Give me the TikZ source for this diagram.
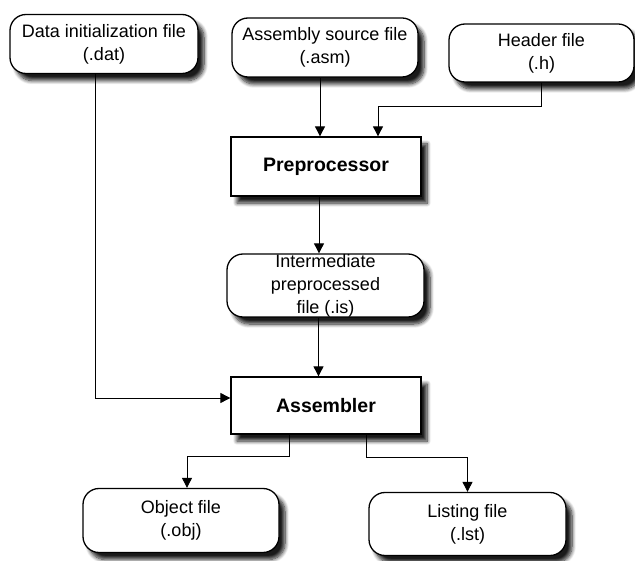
\documentclass[tikz,border=0pt]{standalone}
\usepackage{fontspec}
\setmainfont{Liberation Sans}
\usetikzlibrary{shadows.blur,arrows.meta}
\tikzset{
  box/.style={draw=black, line width=1.3pt, fill=white, align=center, inner sep=0pt,
    blur shadow={shadow xshift=6pt, shadow yshift=-7pt, shadow blur radius=4pt, shadow blur steps=8, shadow opacity=90},
    font=\fontsize{18}{23}\selectfont},
  filebox/.style={box, rounded corners=16pt},
  procbox/.style={box, font=\fontsize{19.5}{23}\selectfont\bfseries},
  arr/.style={draw=black, line width=0.9pt, -{Triangle[length=10pt,width=10pt]}}
}
\begin{document}
\begin{tikzpicture}[x=1pt,y=-1pt]
\useasboundingbox (0,0) rectangle (635,561);
\node[filebox, minimum width=188, minimum height=59] (dat) at (104,44) {Data initialization file\\(.dat)};
\node[filebox, minimum width=186, minimum height=59] (asm) at (325,47.5) {Assembly source file\\(.asm)};
\node[filebox, minimum width=185, minimum height=58] (hdr) at (541.5,53) {Header file\\(.h)};
\node[procbox, minimum width=190, minimum height=59] (pre) at (326,166.5) {Preprocessor};
\node[filebox, minimum width=197, minimum height=63] (int) at (325.5,285.5) {Intermediate\\preprocessed\\file (.is)};
\node[procbox, minimum width=190, minimum height=57] (asmb) at (326,405.5) {Assembler};
\node[filebox, minimum width=196, minimum height=64] (obj) at (181,520.5) {Object file\\(.obj)};
\node[filebox, minimum width=197, minimum height=63] (lst) at (467.5,524) {Listing file\\(.lst)};

\draw[arr] ([xshift=-5pt]asm.south) -- ([xshift=-5pt]asm.south |- pre.north);
\draw[arr] (hdr.south) -- ++(0,24) -| ([xshift=52pt]pre.north);
\draw[arr] ([xshift=-7pt]pre.south) -- ([xshift=-7pt]pre.south |- int.north);
\draw[arr] ([xshift=-7pt]int.south) -- ([xshift=-7pt]int.south |- asmb.north);
\draw[arr] ([xshift=-9pt]dat.south) |- ([yshift=7.5pt]asmb.west);
\draw[arr] ([xshift=-37pt]asmb.south) -- ++(0,22) -| ([xshift=6pt]obj.north);
\draw[arr] ([xshift=40pt]asmb.south) -- ++(0,23) -| (lst.north);
\end{tikzpicture}
\end{document}
